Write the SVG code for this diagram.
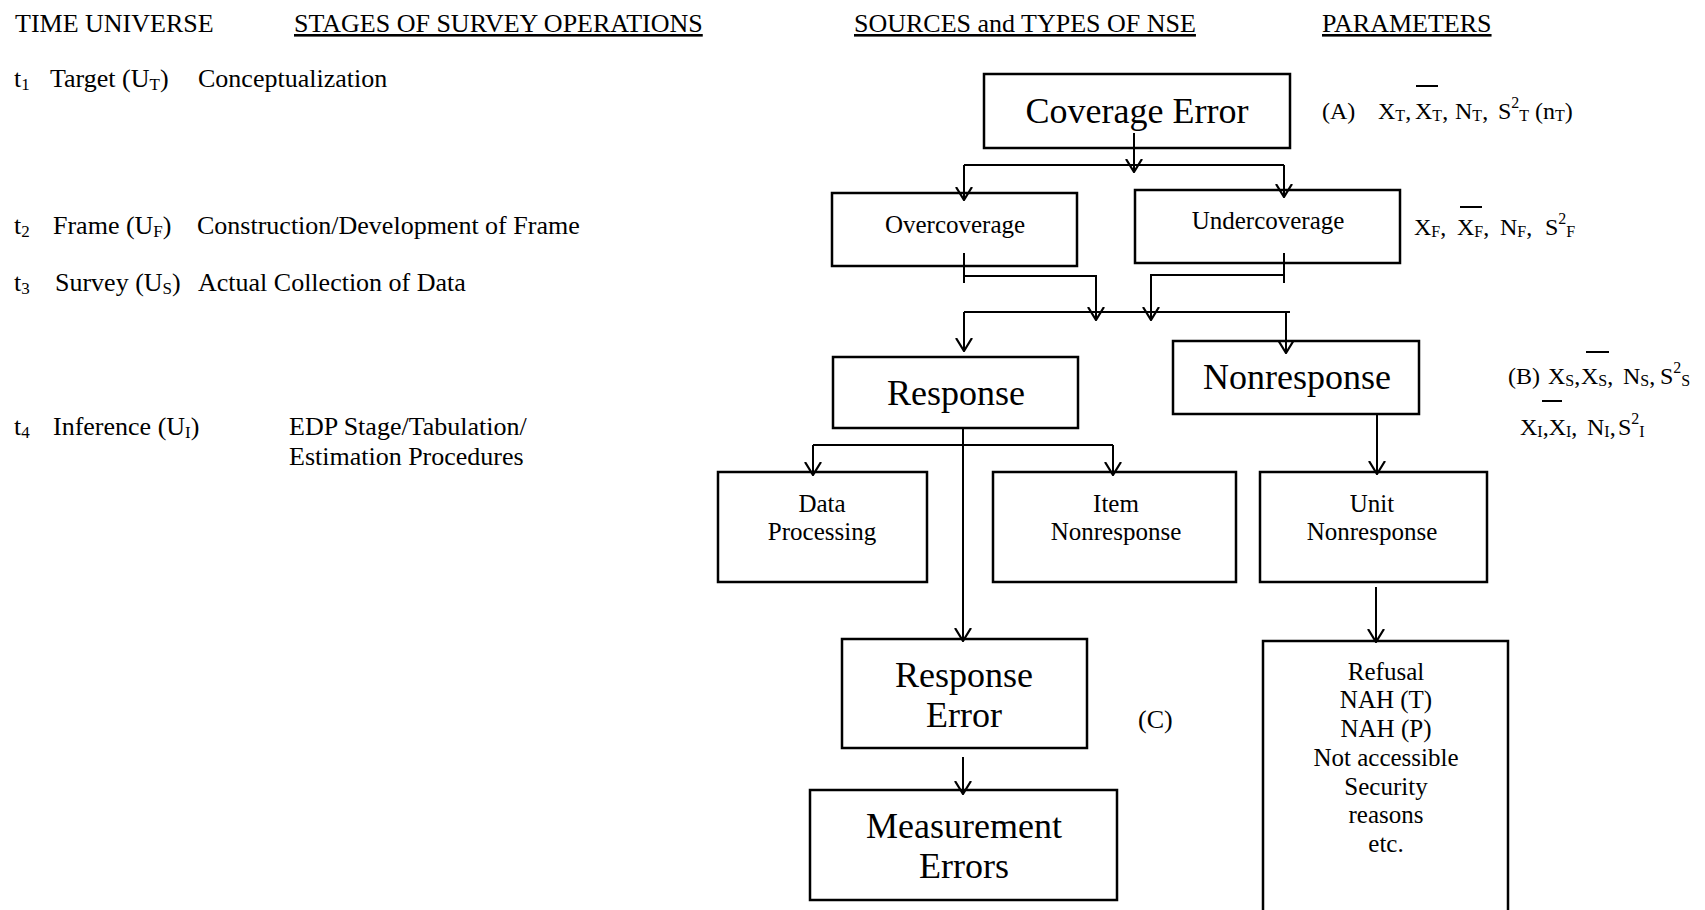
<svg xmlns="http://www.w3.org/2000/svg" width="1705" height="910" viewBox="0 0 1705 910">
<style>
text{font-family:"Liberation Serif","Times New Roman",serif;fill:#000}
.h{font-size:26px}
.b{font-size:26px}
.L{font-size:36px;text-anchor:middle}
.m{font-size:25px;text-anchor:middle}
.p{font-size:24px}
.s{font-size:17px}
.sp{font-size:16px}
.box{fill:#fff;stroke:#000;stroke-width:2.5}
.c{fill:none;stroke:#000;stroke-width:2}
.ov{stroke:#000;stroke-width:2}
</style>
<defs>
<marker id="arr" viewBox="0 0 14 18" refX="13" refY="9" markerWidth="14" markerHeight="18" markerUnits="userSpaceOnUse" orient="auto">
<path d="M0,1 L13,9 L0,17" fill="none" stroke="#000" stroke-width="2.2"/>
</marker>
</defs>
<rect width="1705" height="910" fill="#fff"/>

<g id="headers">
<text class="h" x="15" y="32">TIME UNIVERSE</text>
<text class="h" x="294" y="32" text-decoration="underline">STAGES OF SURVEY OPERATIONS</text>
<text class="h" x="854" y="32" text-decoration="underline">SOURCES and TYPES OF NSE</text>
<text class="h" x="1322" y="32" text-decoration="underline">PARAMETERS</text>
</g>

<g id="time-stages">
<text class="b" y="87"><tspan x="14">t</tspan><tspan class="s" dy="3">1</tspan><tspan x="50" dy="-3">Target (U</tspan><tspan class="s" dy="3">T</tspan><tspan dy="-3">)</tspan><tspan x="198">Conceptualization</tspan></text>
<text class="b" y="234"><tspan x="14">t</tspan><tspan class="s" dy="3">2</tspan><tspan x="53" dy="-3">Frame (U</tspan><tspan class="s" dy="3">F</tspan><tspan dy="-3">)</tspan><tspan x="197">Construction/Development of Frame</tspan></text>
<text class="b" y="291"><tspan x="14">t</tspan><tspan class="s" dy="3">3</tspan><tspan x="55" dy="-3">Survey (U</tspan><tspan class="s" dy="3">S</tspan><tspan dy="-3">)</tspan><tspan x="198">Actual Collection of Data</tspan></text>
<text class="b" y="435"><tspan x="14">t</tspan><tspan class="s" dy="3">4</tspan><tspan x="53" dy="-3">Inference (U</tspan><tspan class="s" dy="3">I</tspan><tspan dy="-3">)</tspan><tspan x="289">EDP Stage/Tabulation/</tspan></text>
<text class="b" x="289" y="465">Estimation Procedures</text>
</g>

<g id="coverage-error">
<rect class="box" x="984" y="74" width="306" height="74"/>
<text class="L" x="1137" y="123">Coverage Error</text>
</g>
<g id="overcoverage">
<rect class="box" x="832" y="193" width="245" height="73"/>
<text class="m" x="955" y="233">Overcoverage</text>
</g>
<g id="undercoverage">
<rect class="box" x="1135" y="190" width="265" height="73"/>
<text class="m" x="1268" y="229">Undercoverage</text>
</g>
<g id="response">
<rect class="box" x="833" y="357" width="245" height="71"/>
<text class="L" x="956" y="405">Response</text>
</g>
<g id="nonresponse">
<rect class="box" x="1173" y="341" width="246" height="73"/>
<text class="L" x="1297" y="389">Nonresponse</text>
</g>
<g id="data-processing">
<rect class="box" x="718" y="472" width="209" height="110"/>
<text class="m"><tspan x="822" y="512">Data</tspan><tspan x="822" y="540">Processing</tspan></text>
</g>
<g id="item-nonresponse">
<rect class="box" x="993" y="472" width="243" height="110"/>
<text class="m"><tspan x="1116" y="512">Item</tspan><tspan x="1116" y="540">Nonresponse</tspan></text>
</g>
<g id="unit-nonresponse">
<rect class="box" x="1260" y="472" width="227" height="110"/>
<text class="m"><tspan x="1372" y="512">Unit</tspan><tspan x="1372" y="540">Nonresponse</tspan></text>
</g>
<g id="response-error">
<rect class="box" x="842" y="639" width="245" height="109"/>
<text class="L"><tspan x="964" y="687">Response</tspan><tspan x="964" y="727">Error</tspan></text>
</g>
<g id="measurement-errors">
<rect class="box" x="810" y="790" width="307" height="110"/>
<text class="L"><tspan x="964" y="838">Measurement</tspan><tspan x="964" y="878">Errors</tspan></text>
</g>
<g id="nonresponse-reasons">
<path class="box" d="M1263,914 V641 H1508 V914"/>
<text class="m"><tspan x="1386" y="680">Refusal</tspan><tspan x="1386" y="708">NAH (T)</tspan><tspan x="1386" y="737">NAH (P)</tspan><tspan x="1386" y="766">Not accessible</tspan><tspan x="1386" y="795">Security</tspan><tspan x="1386" y="823">reasons</tspan><tspan x="1386" y="852">etc.</tspan></text>
</g>

<g id="parameters">
<text class="p" y="119"><tspan x="1322">(A)</tspan><tspan x="1378">X</tspan><tspan class="sp" dy="2">T</tspan><tspan dy="-2">,</tspan><tspan x="1415">X</tspan><tspan class="sp" dy="2">T</tspan><tspan dy="-2">,</tspan><tspan x="1455">N</tspan><tspan class="sp" dy="2">T</tspan><tspan dy="-2">,</tspan><tspan x="1498">S</tspan><tspan class="sp" dy="-11">2</tspan><tspan class="sp" dy="13">T</tspan><tspan x="1535" dy="-2">(n</tspan><tspan class="sp" dy="2">T</tspan><tspan dy="-2">)</tspan></text>
<line class="ov" x1="1416" y1="86" x2="1438" y2="86"/>
<text class="p" y="235"><tspan x="1414">X</tspan><tspan class="sp" dy="2">F</tspan><tspan dy="-2">,</tspan><tspan x="1457">X</tspan><tspan class="sp" dy="2">F</tspan><tspan dy="-2">,</tspan><tspan x="1500">N</tspan><tspan class="sp" dy="2">F</tspan><tspan dy="-2">,</tspan><tspan x="1545">S</tspan><tspan class="sp" dy="-11">2</tspan><tspan class="sp" dy="13">F</tspan></text>
<line class="ov" x1="1460" y1="207" x2="1482" y2="207"/>
<text class="p" y="384"><tspan x="1508">(B)</tspan><tspan x="1548">X</tspan><tspan class="sp" dy="2">S</tspan><tspan dy="-2">,</tspan><tspan x="1581">X</tspan><tspan class="sp" dy="2">S</tspan><tspan dy="-2">,</tspan><tspan x="1623">N</tspan><tspan class="sp" dy="2">S</tspan><tspan dy="-2">,</tspan><tspan x="1660">S</tspan><tspan class="sp" dy="-11">2</tspan><tspan class="sp" dy="13">S</tspan></text>
<line class="ov" x1="1586" y1="352" x2="1609" y2="352"/>
<text class="p" y="435"><tspan x="1520">X</tspan><tspan class="sp" dy="2">I</tspan><tspan dy="-2">,X</tspan><tspan class="sp" dy="2">I</tspan><tspan dy="-2">,</tspan><tspan x="1587">N</tspan><tspan class="sp" dy="2">I</tspan><tspan dy="-2">,</tspan><tspan x="1618">S</tspan><tspan class="sp" dy="-11">2</tspan><tspan class="sp" dy="13">I</tspan></text>
<line class="ov" x1="1542" y1="401" x2="1562" y2="401"/>
<text class="b" x="1138" y="728">(C)</text>
</g>

<g id="connectors">
<path class="c" d="M1134,133 V172" marker-end="url(#arr)"/>
<path class="c" d="M964,165 H1284"/>
<path class="c" d="M964,165 V200" marker-end="url(#arr)"/>
<path class="c" d="M1284,165 V197" marker-end="url(#arr)"/>
<path class="c" d="M964,253 V283"/>
<path class="c" d="M964,276 H1096 V320" marker-end="url(#arr)"/>
<path class="c" d="M1284,253 V283"/>
<path class="c" d="M1284,275 H1151 V320" marker-end="url(#arr)"/>
<path class="c" d="M964,312 H1290"/>
<path class="c" d="M964,312 V351" marker-end="url(#arr)"/>
<path class="c" d="M1286,312 V353" marker-end="url(#arr)"/>
<path class="c" d="M963,428 V641" marker-end="url(#arr)"/>
<path class="c" d="M813,445 H1113"/>
<path class="c" d="M813,445 V475" marker-end="url(#arr)"/>
<path class="c" d="M1113,445 V475" marker-end="url(#arr)"/>
<path class="c" d="M1377,414 V474" marker-end="url(#arr)"/>
<path class="c" d="M963,757 V794" marker-end="url(#arr)"/>
<path class="c" d="M1376,587 V642" marker-end="url(#arr)"/>
</g>
</svg>
